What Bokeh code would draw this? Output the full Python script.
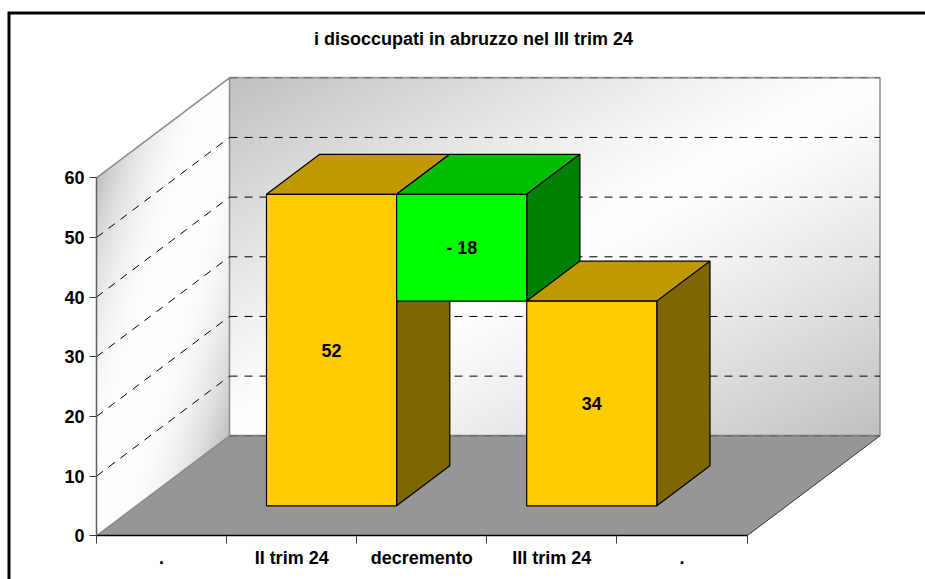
import numpy as np
from bokeh.plotting import figure
from bokeh.models import Range1d, LinearAxis, FixedTicker, Label
from bokeh.embed import file_html
from bokeh.resources import INLINE

# ---- chart data ----
title_text = "i disoccupati in abruzzo nel III trim 24"
categories = [".", "II trim 24", "decremento", "III trim 24", "."]
y_ticks = [0, 10, 20, 30, 40, 50, 60]
hidden_base = [0, 0, 34.3, 0, 0]
visible_vals = [0, 52.2, 17.9, 34.3, 0]
bar_labels = ["", "52", "- 18", "34", ""]
is_green = [False, False, True, False, False]

# ---- layout constants (pixels of the canvas) ----
W, H = 925, 579
ORIGIN_X, ORIGIN_Y = 96.0, 535.3   # category 0, value 0, depth 0
CAT_PX, VAL_PX = 130.1, 5.967
DEPTH_X, DEPTH_Y = 133.0, 100.0
D0, D1 = 0.3, 0.7                  # bar front and back in depth
FONT = "Liberation Sans"
FS = "18px"

x_range = Range1d(-ORIGIN_X / CAT_PX, (W - ORIGIN_X) / CAT_PX)
y_range = Range1d((ORIGIN_Y - H) / VAL_PX, ORIGIN_Y / VAL_PX)

def X(c, d=0.0):
    return c + d * DEPTH_X / CAT_PX

def Y(v, d=0.0):
    return v + d * DEPTH_Y / VAL_PX

def sx(px):
    return (px - ORIGIN_X) / CAT_PX

def sy(px):
    return (ORIGIN_Y - px) / VAL_PX

p = figure(width=W, height=H, x_range=x_range, y_range=y_range,
           x_axis_type=None, y_axis_type=None, toolbar_location=None,
           output_backend="svg", min_border=0, outline_line_color=None,
           background_fill_color="white", border_fill_color="white")

n = len(categories)
ymax = y_ticks[-1]

def shade(u, v, power):
    t = (u + v) / 2
    s = 1 - np.abs(2 * t - 1)
    return 192 + 63 * (1 - (1 - s) ** power)

def to_rgba(g, alpha):
    h, w = g.shape
    img = np.zeros((h, w, 4), dtype=np.uint8)
    img[..., 0] = img[..., 1] = img[..., 2] = g.astype(np.uint8)
    img[..., 3] = alpha
    return img.view(dtype=np.uint32).reshape((h, w))

# back wall
bw, bh = int(n * CAT_PX), int(ymax * VAL_PX)
u = np.linspace(0, 1, bw)[None, :]
v = np.linspace(1, 0, bh)[:, None]          # row 0 is the bottom
p.image_rgba(image=[to_rgba(shade(u, v, 1.2), 255)], x=X(0, 1), y=Y(0, 1), dw=n, dh=ymax)

# side wall: a parallelogram in its bounding box
sw, sh = int(DEPTH_X), int(ymax * VAL_PX + DEPTH_Y)
u = np.linspace(0, 1, sw)[None, :]
rows = (np.arange(sh)[:, None] + 0.5)
low = u * DEPTH_Y
v_skew = np.clip(1 - (rows - low) / (ymax * VAL_PX), 0, 1)
mask = ((rows >= low) & (rows <= low + ymax * VAL_PX)) * 255
p.image_rgba(image=[to_rgba(shade(u, v_skew, 2.4), mask)], x=X(0), y=Y(0),
             dw=X(0, 1) - X(0), dh=Y(ymax, 1) - Y(0))

# floor
p.patch([X(0), X(n), X(n, 1), X(0, 1)], [Y(0), Y(0), Y(0, 1), Y(0, 1)],
        fill_color="#969696", line_color=None)

# wall and floor edges
p.multi_line([[X(0), X(0, 1)], [X(0, 1), X(0, 1)], [X(n, 1), X(n, 1)],
              [X(0), X(0, 1)]],
             [[Y(ymax), Y(ymax, 1)], [Y(0, 1), Y(ymax, 1)], [Y(0, 1), Y(ymax, 1)],
              [Y(0), Y(0, 1)]],
             line_color="#8c8c8c", line_width=1.5)
p.line([X(0, 1), X(n, 1)], [Y(ymax, 1)] * 2, line_color="#a0a0a0", line_width=2)
p.line([X(0, 1), X(n, 1)], [Y(0, 1)] * 2, line_color="#808080", line_width=2)
p.line([X(n), X(n, 1)], [Y(0), Y(0, 1)], line_color="#333333", line_width=1)

# grid lines on both walls
for val in y_ticks:
    if 0 < val < ymax:
        p.line([X(0), X(0, 1)], [Y(val), Y(val, 1)], line_color="black", line_width=1, line_dash="8 7")
p.multi_line([[X(0, 1), X(n, 1)] for val in y_ticks],
             [[Y(val, 1), Y(val, 1)] for val in y_ticks],
             line_color=["#666666" if val in (0, ymax) else "black" for val in y_ticks],
             line_width=1, line_dash="8 7")

# bars, left to right so that nearer faces overlap correctly
for i in range(n):
    val = visible_vals[i]
    if val == 0:
        continue
    b = hidden_base[i]
    front, top, side = ("#00FF00", "#00BF00", "#008000") if is_green[i] else ("#FFCC00", "#C09900", "#806600")
    p.patch([X(i, D0), X(i + 1, D0), X(i + 1, D1), X(i, D1)],
            [Y(b + val, D0), Y(b + val, D0), Y(b + val, D1), Y(b + val, D1)],
            fill_color=top, line_color="black", line_width=1.2)
    p.patch([X(i + 1, D0), X(i + 1, D1), X(i + 1, D1), X(i + 1, D0)],
            [Y(b, D0), Y(b, D1), Y(b + val, D1), Y(b + val, D0)],
            fill_color=side, line_color="black", line_width=1.2)
    p.patch([X(i, D0), X(i + 1, D0), X(i + 1, D0), X(i, D0)],
            [Y(b, D0), Y(b, D0), Y(b + val, D0), Y(b + val, D0)],
            fill_color=front, line_color="black", line_width=1.2)

# value labels
xs, ys, ts = [], [], []
for i in range(n):
    if bar_labels[i]:
        xs.append(X(i + 0.5, D0))
        ys.append(Y(hidden_base[i] + visible_vals[i] / 2, D0))
        ts.append(bar_labels[i])
p.text(xs, ys, text=ts, text_align="center", text_baseline="middle",
       text_font={"value": FONT}, text_font_size=FS, text_font_style="bold", text_color="black")

# axes
yax = LinearAxis(fixed_location=0, bounds=(0, ymax), ticker=FixedTicker(ticks=y_ticks))
yax.axis_line_color = "#606060"
yax.axis_line_width = 1.5
yax.major_tick_in = 0
yax.major_tick_out = 7
yax.major_tick_line_color = "#404040"
yax.minor_tick_line_color = None
yax.major_label_standoff = 5
yax.major_label_text_font = FONT
yax.major_label_text_font_size = FS
yax.major_label_text_font_style = "bold"
yax.major_label_text_color = "black"
p.add_layout(yax, "left")

xticks = [i + 0.5 for i in range(n)]
xax = LinearAxis(fixed_location=0, bounds=(0, n),
                 ticker=FixedTicker(ticks=xticks, minor_ticks=list(range(n + 1))))
xax.major_label_overrides = {t: c for t, c in zip(xticks, categories)}
xax.axis_line_color = "black"
xax.axis_line_width = 1.5
xax.major_tick_line_color = None
xax.major_tick_in = 0
xax.major_tick_out = 0
xax.minor_tick_in = 0
xax.minor_tick_out = 8
xax.minor_tick_line_color = "#404040"
xax.major_label_standoff = 4
xax.major_label_text_font = FONT
xax.major_label_text_font_size = FS
xax.major_label_text_font_style = "bold"
xax.major_label_text_color = "black"
p.add_layout(xax, "below")

# title
p.add_layout(Label(x=sx(473), y=sy(38), text=title_text, text_align="center",
                   text_baseline="middle", text_font=FONT, text_font_size=FS,
                   text_font_style="bold", text_color="black"))

# chart area border (its right and bottom sides lie beyond the picture)
p.line([sx(8.5), sx(8.5), sx(W)], [sy(H), sy(12.5), sy(12.5)],
       line_color="black", line_width=3, line_join="miter")

open("out.html", "w").write(file_html(p, INLINE))
